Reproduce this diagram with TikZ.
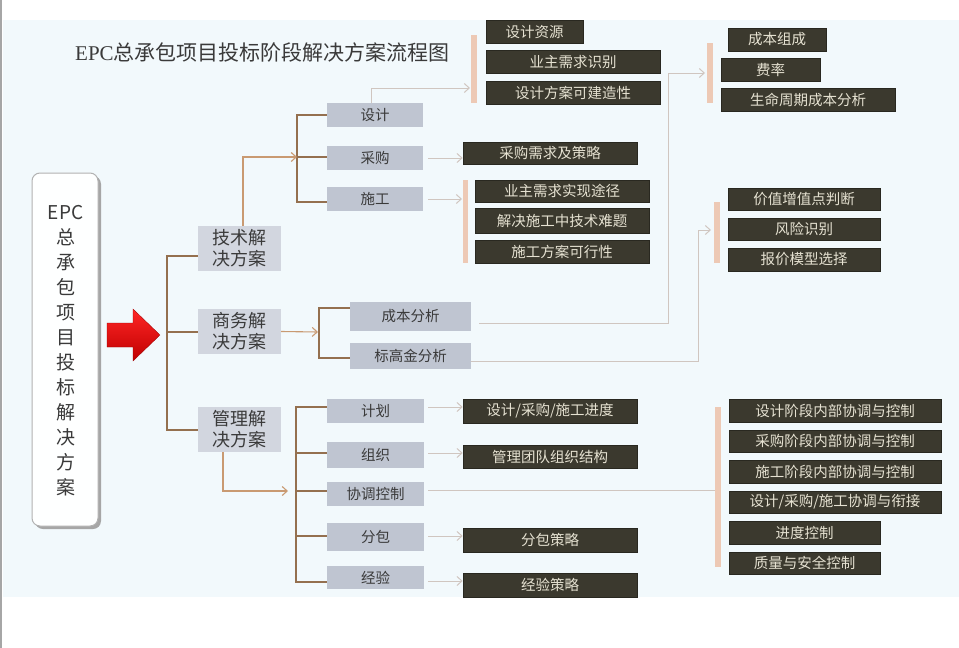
\documentclass[tikz,border=0pt]{standalone}
\usepackage{fontspec}
\setmainfont{Liberation Serif}
\newfontfamily\cjk{Noto Sans CJK SC}
\usetikzlibrary{arrows.meta}
\definecolor{bgblue}{HTML}{F2F9FC}
\definecolor{graybox}{HTML}{BFC5D1}
\definecolor{darkbox}{HTML}{3B392E}
\definecolor{darktext}{HTML}{E6E2D2}
\definecolor{peach}{HTML}{EDC9B5}
\definecolor{brline}{HTML}{94704F}
\definecolor{orline}{HTML}{C99A72}
\definecolor{ltline}{HTML}{D0C6C0}
\definecolor{txtgray}{HTML}{3A3A3A}
\tikzset{
  gbox/.style={fill=graybox, inner sep=0pt, text=txtgray, font=\cjk\fontsize{14.5}{16}\selectfont, minimum width=96pt, minimum height=24pt},
  lbox/.style={fill=graybox!70!white, inner sep=0pt, text=txtgray, font=\cjk\fontsize{18}{21}\selectfont, align=center, minimum width=83pt, minimum height=45pt},
  dbox/.style={fill=darkbox, draw=darkbox!70!black, line width=0.6pt, inner sep=0pt, text=darktext, font=\cjk\fontsize{14.5}{16}\selectfont, minimum height=23pt},
  pbar/.style={fill=peach, draw=none},
  brl/.style={draw=brline, line width=1.1pt},
  orarrow/.style={draw=orline, line width=1.1pt, -{Straight Barb[length=5pt,width=9pt,line width=1.1pt]}},
  ltarrow/.style={draw=ltline, line width=1pt, -{Straight Barb[length=5pt,width=9pt,line width=1pt]}},
  ltl/.style={draw=ltline, line width=1pt},
}
\begin{document}
\begin{tikzpicture}[x=1pt,y=-1pt]
\useasboundingbox (0,0) rectangle (959,648);
\fill[white] (0,0) rectangle (959,648);
\fill[bgblue] (3,20) rectangle (959,597);
\fill[gray!70] (0,0) rectangle (1.5,648);

% title
\node[anchor=west, inner sep=0pt, text=txtgray, font=\fontsize{21}{24}\selectfont] (title) at (75,52) {EPC{\cjk 总承包项目投标阶段解决方案流程图}};

% EPC box
\fill[gray!70, rounded corners=8pt] (35,176) rectangle (101,529);
\draw[draw=gray!60, fill=white!96!bgblue, line width=1pt, rounded corners=8pt] (32,173) rectangle (98,526);
\node[inner sep=0pt, align=center, text=txtgray, font=\cjk\fontsize{19}{25}\selectfont] (epc) at (65.5,351) {EPC\\总\\承\\包\\项\\目\\投\\标\\解\\决\\方\\案};

% red arrow
\shade[top color=red!85!white, bottom color=red!75!black, draw=red!60!black, line width=0.3pt]
  (107,323) -- (133,323) -- (133,309) -- (160,335) -- (133,361) -- (133,347) -- (107,347) -- cycle;

% level 1 boxes
\node[lbox] (tech) at (239.5,248.5) {技术解\\决方案};
\node[lbox] (biz) at (239.5,331.5) {商务解\\决方案};
\node[lbox] (mgmt) at (239.5,429.5) {管理解\\决方案};

\coordinate (j1) at (167,256);
\coordinate (j2) at (167,332);
\coordinate (j3) at (167,430);
\draw[brl] (j1 -| tech.west) -- (j1) -- (j3) -- (j3 -| mgmt.west);
\draw[brl] (j2) -- (j2 -| biz.west);

% tech level 2
\node[gbox] (sheji) at (375,115) {设计};
\node[gbox] (caigou) at (375,158) {采购};
\node[gbox] (shigong) at (375,199) {施工};
\coordinate (t1) at (297,115);
\coordinate (t2) at (297,157);
\coordinate (t3) at (297,202);
\coordinate (tin) at (243,157);
\draw[brl] (sheji.west |- t1) -- (t1) -- (t3) -- (t3 -| shigong.west);
\draw[brl] (t2) -- (t2 -| caigou.west);
\draw[orarrow] (tin |- tech.north) -- (tin) -- (t2);

% sheji children
\fill[pbar] (471,35) rectangle (477,103);
\coordinate (sj1) at (371,88);
\coordinate (sjbar) at (470,88);
\draw[ltarrow] (sj1 |- sheji.north) -- (sj1) -- (sjbar);
\node[dbox, minimum width=97pt] (sjzy) at (534.5,32) {设计资源};
\node[dbox, minimum width=174pt] (yzxq) at (573,62) {业主需求识别};
\node[dbox, minimum width=174pt] (sjfa) at (573,92.5) {设计方案可建造性};

% caigou child
\node[dbox, minimum width=174pt, minimum height=22pt] (cgxq) at (550,153) {采购需求及策略};
\draw[ltarrow, shorten <=5pt] (caigou.east) -- (caigou.east -| cgxq.west);

% shigong children
\fill[pbar] (463,180) rectangle (468,263);
\coordinate (sgbar) at (462,199);
\draw[ltarrow, shorten <=5pt] (shigong.east) -- (sgbar);
\node[dbox, minimum width=174pt, minimum height=22pt] (yzsx) at (562,191) {业主需求实现途径};
\node[dbox, minimum width=174pt, minimum height=25pt] (jjsg) at (562,221) {解决施工中技术难题};
\node[dbox, minimum width=174pt] (sgfa) at (562,251.5) {施工方案可行性};

% biz level 2
\node[gbox, minimum width=121pt, minimum height=29pt] (cbfx) at (410.5,316.5) {成本分析};
\node[gbox, minimum width=121pt, minimum height=26pt] (bgj) at (410.5,356) {标高金分析};
\coordinate (b0) at (318,332);
\coordinate (b1) at (319,308);
\coordinate (b2) at (319,358);
\draw[orarrow] (biz.east) -- (b0);
\draw[brl] (cbfx.west |- b1) -- (b1) -- (b2) -- (b2 -| bgj.west);

% cbfx long connector
\fill[pbar] (707,43) rectangle (713,103);
\coordinate (c1) at (668,323);
\coordinate (c2) at (668,73);
\coordinate (c3) at (705,73);
\draw[ltarrow, shorten <=8pt] (cbfx.east |- c1) -- (c1) -- (c2) -- (c3);
\node[dbox, minimum width=98pt] (cbzc) at (777,39.5) {成本组成};
\node[dbox, minimum width=99pt] (fl) at (770.5,69.5) {费率};
\node[dbox, minimum width=174pt] (smzq) at (808,99.5) {生命周期成本分析};

% bgj long connector
\fill[pbar] (714,202) rectangle (720,263);
\coordinate (g1) at (698,361);
\coordinate (g2) at (698,230);
\coordinate (g3) at (711,230);
\draw[ltarrow] (bgj.east |- g1) -- (g1) -- (g2) -- (g3);
\node[dbox, minimum width=152pt, minimum height=22pt] (jzzz) at (804,199) {价值增值点判断};
\node[dbox, minimum width=152pt, minimum height=22pt] (fxsb) at (804,229) {风险识别};
\node[dbox, minimum width=152pt] (bjmx) at (804,259.5) {报价模型选择};

% mgmt level 2
\node[gbox, minimum width=97pt] (jh) at (375.5,411) {计划};
\node[gbox, minimum width=97pt, minimum height=26pt] (zz) at (375.5,455) {组织};
\node[gbox, minimum width=97pt] (xt) at (375.5,494) {协调控制};
\node[gbox, minimum width=97pt, minimum height=28pt] (fb) at (375.5,537) {分包};
\node[gbox, minimum width=97pt, minimum height=23pt] (jy) at (375.5,577.5) {经验};
\coordinate (m0) at (223,491);
\coordinate (m1) at (288,491);
\draw[orarrow] (m0 |- mgmt.south) -- (m0) -- (m1);
\coordinate (k1) at (296,407);
\coordinate (k2) at (296,453);
\coordinate (k3) at (296,491);
\coordinate (k4) at (296,536);
\coordinate (k5) at (296,582);
\draw[brl] (jh.west |- k1) -- (k1) -- (k5) -- (k5 -| jy.west);
\draw[brl] (k2) -- (k2 -| zz.west);
\draw[brl] (k3) -- (k3 -| xt.west);
\draw[brl] (k4) -- (k4 -| fb.west);

\node[dbox, minimum width=174pt, minimum height=24pt] (jhd) at (550,411) {设计/采购/施工进度};
\node[dbox, minimum width=174pt] (zzd) at (550,456.5) {管理团队组织结构};
\node[dbox, minimum width=174pt, minimum height=24pt] (fbd) at (550,540) {分包策略};
\node[dbox, minimum width=174pt, minimum height=24pt] (jyd) at (550,585) {经验策略};
\coordinate (a1) at (428,407);
\coordinate (a2) at (428,453);
\coordinate (a4) at (428,536);
\coordinate (a5) at (428,581);
\draw[ltarrow] (a1) -- (a1 -| jhd.west);
\draw[ltarrow] (a2) -- (a2 -| zzd.west);
\draw[ltarrow] (a4) -- (a4 -| fbd.west);
\draw[ltarrow] (a5) -- (a5 -| jyd.west);

% xietiao children
\fill[pbar] (715,407) rectangle (721,567);
\coordinate (x1) at (715,490);
\draw[ltl, shorten <=4pt] (xt.east |- x1) -- (x1);
\node[dbox, minimum width=212pt] (xd1) at (835,410.5) {设计阶段内部协调与控制};
\node[dbox, minimum width=212pt, minimum height=22pt] (xd2) at (835,441) {采购阶段内部协调与控制};
\node[dbox, minimum width=212pt] (xd3) at (835,471.5) {施工阶段内部协调与控制};
\node[dbox, minimum width=212pt, minimum height=22pt] (xd4) at (835,502) {设计/采购/施工协调与衔接};
\node[dbox, minimum width=151pt] (xd5) at (804.5,532.5) {进度控制};
\node[dbox, minimum width=151pt, minimum height=22pt] (xd6) at (804.5,563) {质量与安全控制};
\end{tikzpicture}
\end{document}
